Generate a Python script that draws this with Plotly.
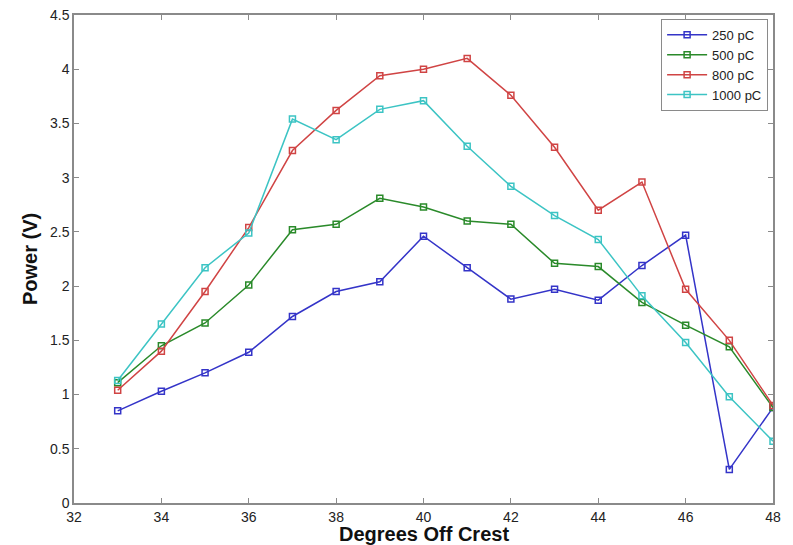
import plotly.graph_objects as go

degrees = [33, 34, 35, 36, 37, 38, 39, 40, 41, 42, 43, 44, 45, 46, 47, 48]
p250 = [0.85, 1.03, 1.20, 1.39, 1.72, 1.95, 2.04, 2.46, 2.17, 1.88, 1.97, 1.87, 2.19, 2.47, 0.31, 0.88]
p500 = [1.11, 1.45, 1.66, 2.01, 2.52, 2.57, 2.81, 2.73, 2.60, 2.57, 2.21, 2.18, 1.85, 1.64, 1.44, 0.88]
p800 = [1.04, 1.40, 1.95, 2.54, 3.25, 3.62, 3.94, 4.00, 4.10, 3.76, 3.28, 2.70, 2.96, 1.97, 1.50, 0.90]
p1000 = [1.13, 1.65, 2.17, 2.49, 3.54, 3.35, 3.63, 3.71, 3.29, 2.92, 2.65, 2.43, 1.91, 1.48, 0.98, 0.57]

series = [
    ("250 pC", p250, "#3434c8"),
    ("500 pC", p500, "#2a8a2a"),
    ("800 pC", p800, "#d04444"),
    ("1000 pC", p1000, "#3cc4c4"),
]

x_ticks = [32, 34, 36, 38, 40, 42, 44, 46, 48]
y_ticks = [0, 0.5, 1, 1.5, 2, 2.5, 3, 3.5, 4, 4.5]
y_tick_text = ["0", "0.5", "1", "1.5", "2", "2.5", "3", "3.5", "4", "4.5"]
x_title = "Degrees Off Crest"
y_title = "Power (V)"

fig = go.Figure()
for name, vals, color in series:
    fig.add_trace(go.Scatter(
        x=degrees, y=vals, name=name, mode="lines+markers",
        line=dict(color=color, width=1.5),
        marker=dict(symbol="square-open", size=6, color=color, line=dict(width=1.5, color=color)),
    ))

axis_common = dict(
    showline=True, linecolor="#8a8a8a", linewidth=1.5, mirror="ticks",
    ticks="inside", ticklen=5, tickcolor="#8a8a8a", showgrid=False, zeroline=False,
    automargin=False,
    tickfont=dict(family="Liberation Sans, Arial, sans-serif", size=14, color="#222"),
)

fig.update_layout(
    width=793, height=545,
    margin=dict(l=74, r=20, t=15, b=42),
    paper_bgcolor="white", plot_bgcolor="white",
    font=dict(family="Liberation Sans, Arial, sans-serif"),
    xaxis=dict(range=[32, 48], tickvals=x_ticks, **axis_common),
    yaxis=dict(range=[0, 4.5], tickvals=y_ticks, ticktext=y_tick_text, **axis_common),
    legend=dict(x=0.993, y=0.992, xanchor="right", yanchor="top",
                bgcolor="white", bordercolor="#8a8a8a", borderwidth=1,
                font=dict(size=13, color="#222"), tracegroupgap=0, itemwidth=40),
    showlegend=True,
    annotations=[
        dict(text="<b>" + x_title + "</b>", xref="paper", yref="paper",
             x=0.5, y=0, yshift=-31, xanchor="center", yanchor="middle",
             showarrow=False, font=dict(size=20, color="#111")),
        dict(text="<b>" + y_title + "</b>", xref="paper", yref="paper",
             x=0, y=0.5, xshift=-44, xanchor="center", yanchor="middle", textangle=-90,
             showarrow=False, font=dict(size=20, color="#111")),
    ],
)

fig.write_html("out.html")
